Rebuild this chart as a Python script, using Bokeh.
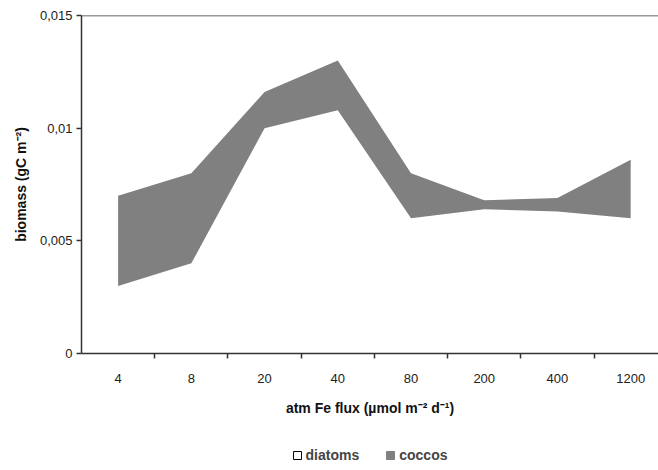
from bokeh.plotting import figure
from bokeh.layouts import column
from bokeh.models import (ColumnDataSource, FixedTicker, Range1d, Span, Legend, LegendItem)
from bokeh.embed import file_html
from bokeh.resources import INLINE

categories = ["4", "8", "20", "40", "80", "200", "400", "1200"]
diatoms = [0.003, 0.004, 0.010, 0.0108, 0.006, 0.0064, 0.0063, 0.006]
coccos = [0.004, 0.004, 0.0016, 0.0022, 0.002, 0.0004, 0.0006, 0.0026]
y_ticks = [0, 0.005, 0.01, 0.015]
y_tick_labels = ["0", "0,005", "0,01", "0,015"]

xpos = [i + 0.5 for i in range(len(categories))]
src = ColumnDataSource(dict(x=xpos, diatoms=diatoms, coccos=coccos))

FONT = "Liberation Sans"
nan = float("nan")

p = figure(width=658, height=440, output_backend="svg", toolbar_location=None,
           x_range=Range1d(0, 7.88), y_range=Range1d(0, 0.015),
           min_border_left=81, min_border_top=15, min_border_right=0, min_border_bottom=87)
p.outline_line_color = None
p.xgrid.visible = False
p.ygrid.visible = False

rs = p.varea_stack(stackers=["diatoms", "coccos"], x="x", source=src,
                   color=["white", "#808080"])

top_line = Span(location=0.015, dimension="width", line_color="#333333", line_width=1.5)
p.add_layout(top_line)

# x axis
p.xaxis.ticker = FixedTicker(ticks=xpos, minor_ticks=[1, 2, 3, 4, 5, 6, 7])
p.xaxis.major_label_overrides = {x: c for x, c in zip(xpos, categories)}
p.xaxis.major_tick_line_color = None
p.xaxis.minor_tick_in = 0
p.xaxis.minor_tick_out = 5
p.xaxis.minor_tick_line_color = "#333333"
p.xaxis.minor_tick_line_width = 1.5
p.xaxis.axis_line_color = "#333333"
p.xaxis.axis_line_width = 1.5
p.xaxis.major_label_standoff = 14
p.xaxis.axis_label = "atm Fe flux (µmol m⁻² d⁻¹)"
p.xaxis.axis_label_standoff = 14

# y axis
p.yaxis.ticker = FixedTicker(ticks=y_ticks, minor_ticks=[])
p.yaxis.major_label_overrides = {t: l for t, l in zip(y_ticks, y_tick_labels)}
p.yaxis.major_tick_in = 0
p.yaxis.major_tick_out = 5
p.yaxis.major_tick_line_color = "#333333"
p.yaxis.major_tick_line_width = 1.5
p.yaxis.axis_line_color = "#333333"
p.yaxis.axis_line_width = 1.5
p.yaxis.major_label_standoff = 4
p.yaxis.axis_label = "biomass (gC m⁻²)"
p.yaxis.axis_label_standoff = 8

for ax in (p.xaxis, p.yaxis):
    ax.major_label_text_font = FONT
    ax.major_label_text_font_size = "13px"
    ax.major_label_text_color = "#222222"
    ax.axis_label_text_font = FONT
    ax.axis_label_text_font_style = "bold"
    ax.axis_label_text_font_size = "14px"
    ax.axis_label_text_color = "#111111"

# legend strip
lg = figure(width=658, height=30, output_backend="svg", toolbar_location=None,
            x_range=Range1d(0, 1), y_range=Range1d(0, 1),
            min_border=0, min_border_left=0, min_border_right=0, min_border_top=0, min_border_bottom=0)
lg.axis.visible = False
lg.grid.visible = False
lg.outline_line_color = None
d_proxy = lg.quad(left=[nan], right=[nan], top=[nan], bottom=[nan], fill_color="white", line_color="black", line_width=1)
c_proxy = lg.quad(left=[nan], right=[nan], top=[nan], bottom=[nan], fill_color="#808080", line_color="#808080", line_width=1)
legend = Legend(items=[LegendItem(label="diatoms", renderers=[d_proxy]),
                       LegendItem(label="coccos", renderers=[c_proxy])],
                orientation="horizontal", location="center",
                border_line_color=None, background_fill_alpha=0,
                label_text_font=FONT, label_text_font_style="bold", label_text_font_size="14px",
                label_height=12, glyph_width=10, glyph_height=10, spacing=26, label_standoff=4,
                padding=0, margin=0)
lg.add_layout(legend)

layout = column(p, lg, spacing=0)
open("out.html", "w").write(file_html(layout, INLINE))
